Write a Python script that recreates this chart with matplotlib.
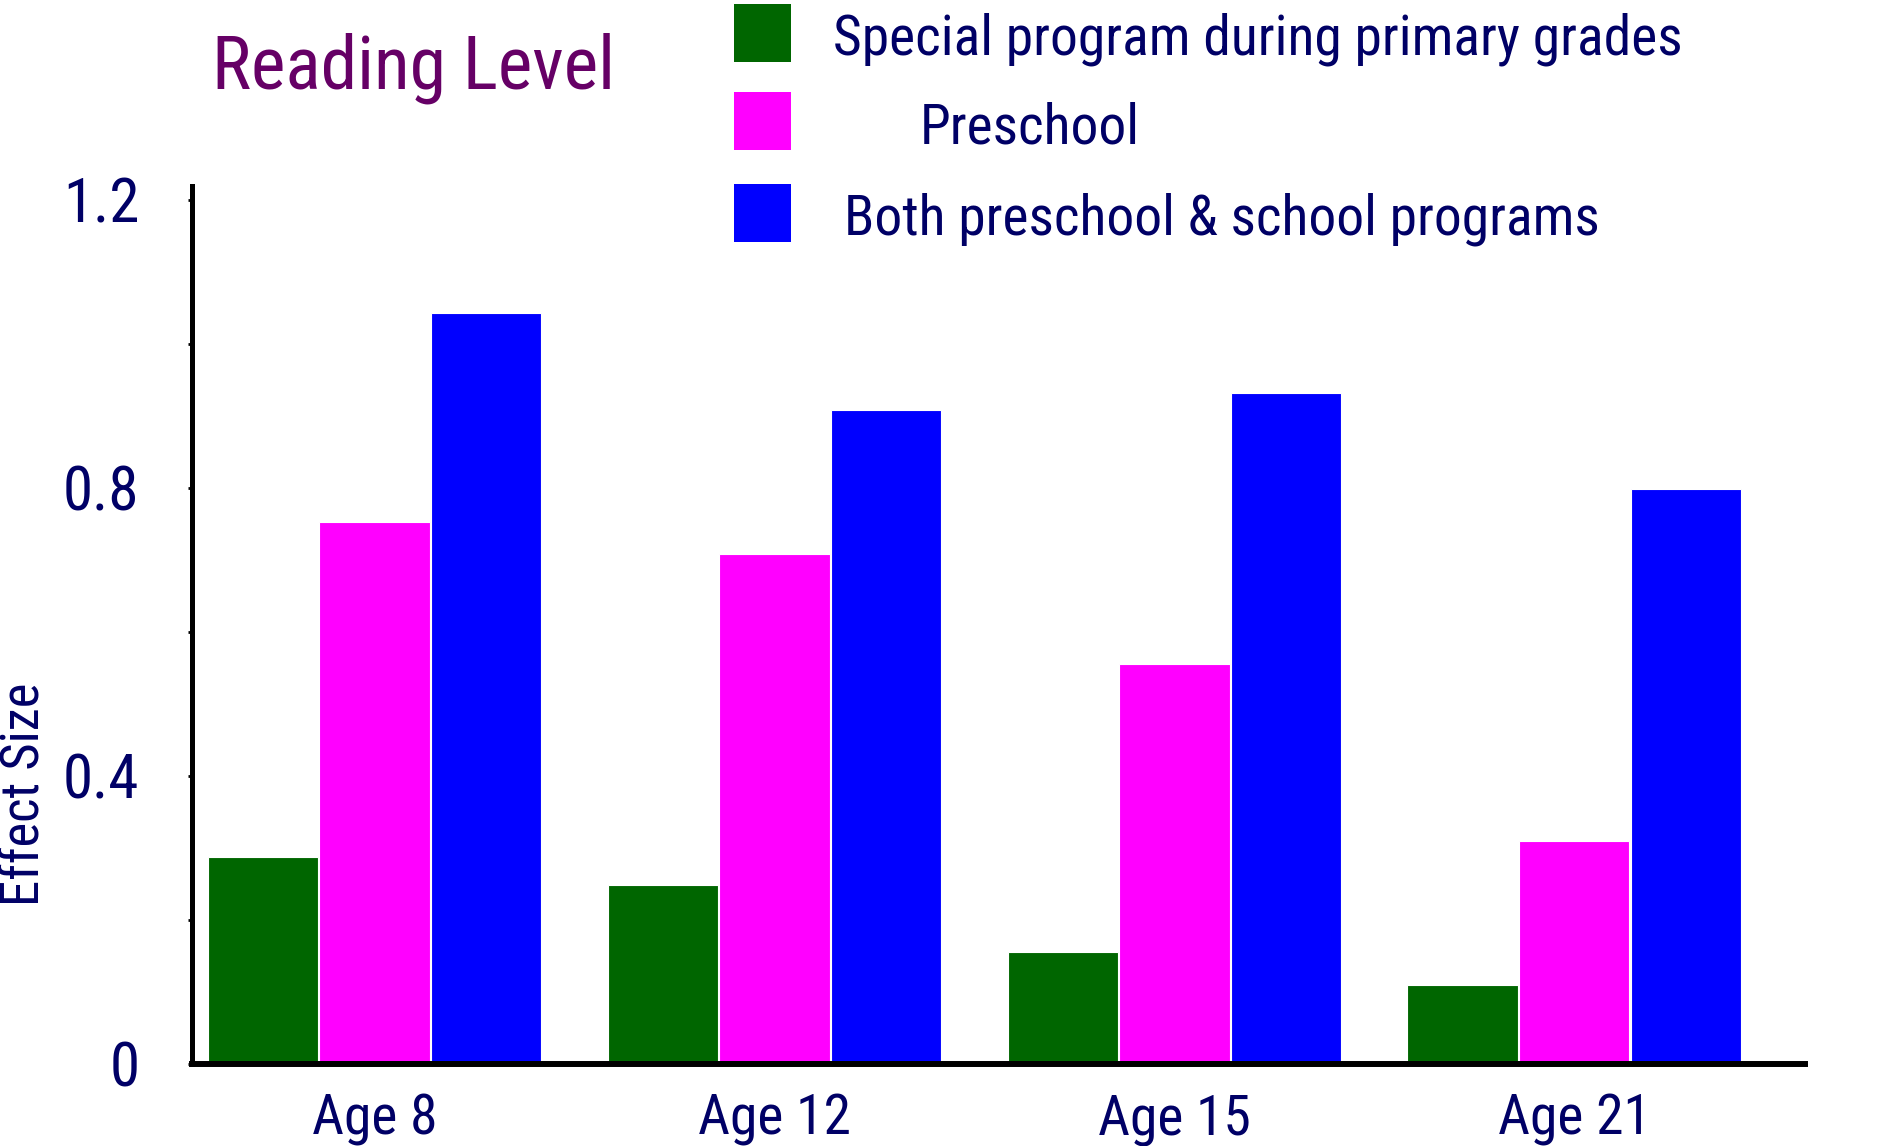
import numpy as np
import matplotlib
matplotlib.use('Agg')
import matplotlib.pyplot as plt
from matplotlib.patches import Rectangle

# efekat programa na nivo citanja, po uzrastu
ages = ['Age 8', 'Age 12', 'Age 15', 'Age 21']
series_names = ['Special program during primary grades',
                'Preschool',
                'Both preschool & school programs']
school_only = [0.287, 0.248, 0.155, 0.110]
preschool = [0.753, 0.708, 0.555, 0.310]
both_programs = [1.042, 0.908, 0.932, 0.798]
y_ticks = [0, 0.4, 0.8, 1.2]
y_tick_labels = ['0', '0.4', '0.8', '1.2']

colors = ['#006600', '#ff00ff', '#0000ff']
navy = '#000066'
narrow = ['Roboto Condensed', 'DejaVu Sans']

W, H = 1883, 1146
fig = plt.figure(figsize=(W / 100, H / 100), dpi=100)
ax = fig.add_axes([0.102, 0.0716, 0.9586 - 0.102, 0.8377 - 0.0716])

x = np.arange(len(ages))
width = 0.276
step = 0.279
for i, vals in enumerate([school_only, preschool, both_programs]):
    ax.bar(x + (i - 1) * step, vals, width, color=colors[i],
           edgecolor='white', linewidth=0.8, zorder=2)

ax.set_xlim(-0.456, 3.577)
ax.set_ylim(0, 1.219)

# samo lijeva i donja osa, debele crne linije
for s in ['top', 'right']:
    ax.spines[s].set_visible(False)
ax.spines['left'].set_linewidth(3.6)
ax.spines['bottom'].set_linewidth(4.3)
ax.spines['left'].set_zorder(3)
ax.spines['bottom'].set_zorder(3)

ax.set_yticks(y_ticks)
ax.set_yticklabels(y_tick_labels, family=narrow, fontsize=44, color=navy)
ax.set_yticks([0.2, 0.6, 1.0], minor=True)
ax.tick_params(axis='y', which='both', direction='out', length=3, width=2,
               pad=35, color='black')

ax.set_xticks(x)
ax.set_xticklabels(ages, family=narrow, fontsize=40, color=navy)
ax.tick_params(axis='x', length=0, pad=21)


def fx(px):
    return px / W


def fy(py):
    return 1 - py / H


# naslov
fig.text(fx(212), fy(89), 'Reading Level', family=narrow, fontsize=53,
         color='#660066', ha='left', va='baseline')

# oznaka y ose
fig.text(fx(25), fy(794), 'Effect Size', family=narrow, fontsize=38,
         color=navy, rotation=90, ha='center', va='center')

# legenda - kvadrati i tekst
box_tops = [4, 92, 184]
text_x = [833, 920, 844]
text_base = [54, 143, 234]
for i in range(3):
    fig.patches.append(Rectangle((fx(734), fy(box_tops[i] + 58)), 57 / W, 58 / H,
                                 transform=fig.transFigure, facecolor=colors[i],
                                 edgecolor='none'))
    fig.text(fx(text_x[i]), fy(text_base[i]), series_names[i], family=narrow,
             fontsize=40, color=navy, ha='left', va='baseline')

fig.savefig('out.png', dpi=100, facecolor='white')
